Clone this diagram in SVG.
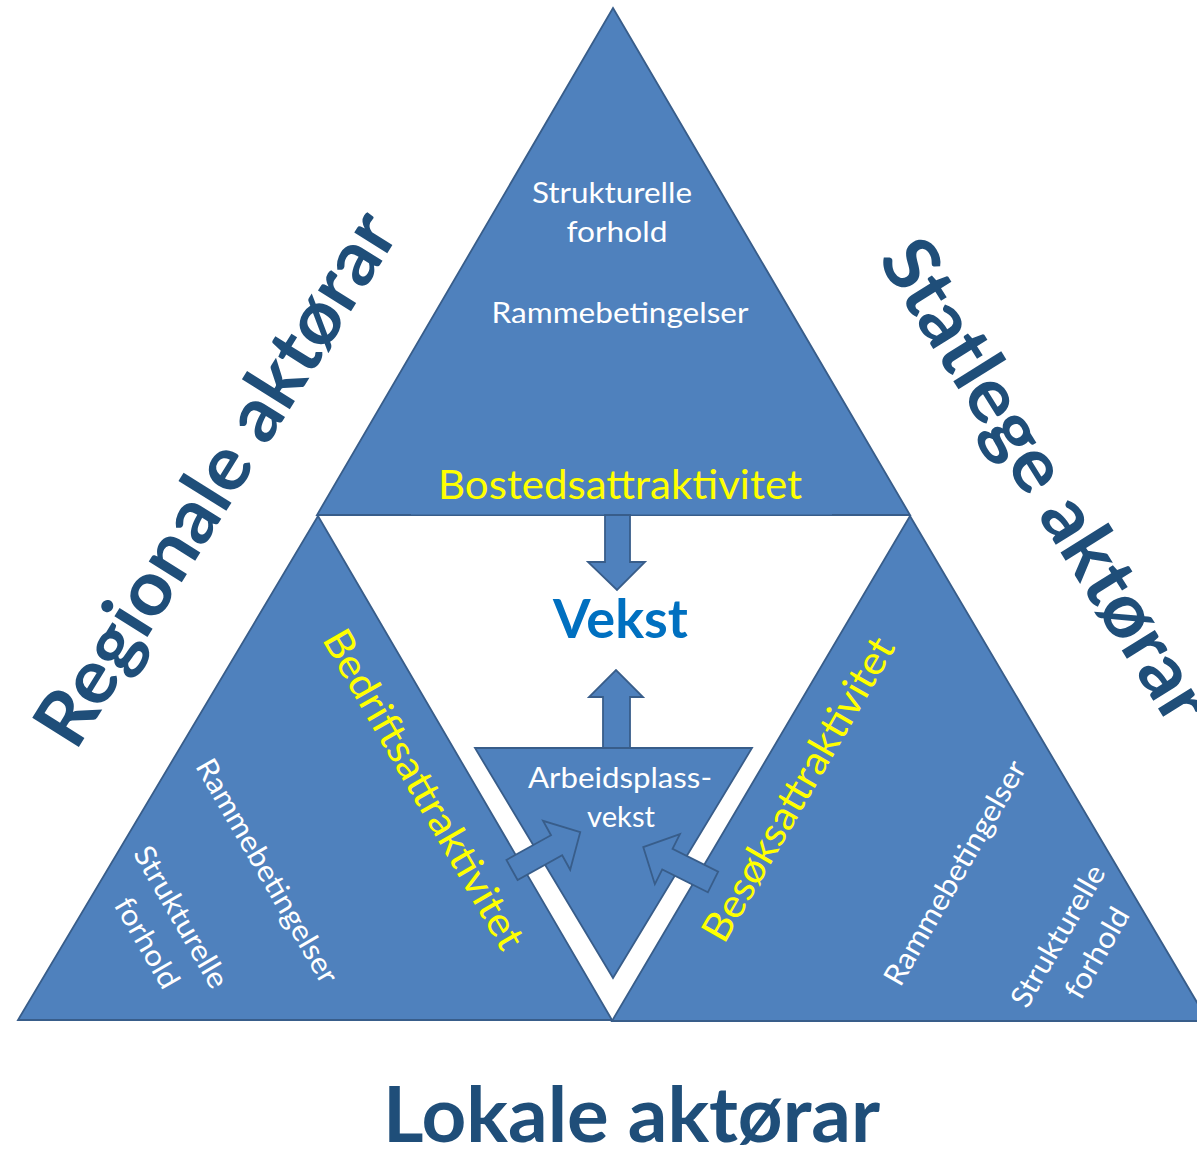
<svg xmlns="http://www.w3.org/2000/svg" width="1197" height="1153" viewBox="0 0 1197 1153">
  <style>
    .tri { fill: #4F81BD; stroke: #385D8A; stroke-width: 1.8; stroke-linejoin: miter; }
    .arrow { fill: #4F81BD; stroke: #385D8A; stroke-width: 1.8; stroke-linejoin: miter; }
    .w { font-family: Lato, "Open Sans", "Liberation Sans", sans-serif; fill: #FFFFFF; font-size: 29.5px; text-anchor: middle; }
    .y { font-family: Lato, "Open Sans", "Liberation Sans", sans-serif; fill: #FFFF00; font-size: 40px; text-anchor: middle; }
    .big { font-family: Lato, "Open Sans", "Liberation Sans", sans-serif; font-weight: bold; fill: #1F4E79; font-size: 76px; text-anchor: middle; }
    .vekst { font-family: Lato, "Open Sans", "Liberation Sans", sans-serif; font-weight: bold; fill: #0070C0; font-size: 53px; text-anchor: middle; }
  </style>
  <rect width="1197" height="1153" fill="#FFFFFF"/>

  <g id="top-triangle">
    <polygon class="tri" points="613,8 910,515 317,515"/>
    <rect x="411" y="511" width="421" height="3.5" fill="#4F81BD"/>
    <text class="w" x="612" y="203" textLength="160" lengthAdjust="spacingAndGlyphs">Strukturelle</text>
    <text class="w" x="617" y="242" textLength="101" lengthAdjust="spacingAndGlyphs">forhold</text>
    <text class="w" x="620" y="323" textLength="257" lengthAdjust="spacingAndGlyphs">Rammebetingelser</text>
    <text class="y" x="620" y="499" textLength="364" lengthAdjust="spacingAndGlyphs">Bostedsattraktivitet</text>
  </g>

  <g id="left-triangle">
    <polygon class="tri" points="318,516 612,1020 18,1020"/>
    <text class="y" transform="translate(424,789) rotate(60)" x="0" y="14" textLength="362" lengthAdjust="spacingAndGlyphs">Bedriftsattraktivitet</text>
    <text class="w" transform="translate(267,871) rotate(60)" x="0" y="10" textLength="254" lengthAdjust="spacingAndGlyphs">Rammebetingelser</text>
    <text class="w" transform="translate(181,917) rotate(60)" x="0" y="10" textLength="159" lengthAdjust="spacingAndGlyphs">Strukturelle</text>
    <text class="w" transform="translate(147,943) rotate(60)" x="0" y="10" textLength="100" lengthAdjust="spacingAndGlyphs">forhold</text>
  </g>

  <g id="right-triangle">
    <polygon class="tri" points="910,516 1208,1021 612,1021"/>
    <text class="y" transform="translate(798,789) rotate(-60)" x="0" y="14" textLength="344" lengthAdjust="spacingAndGlyphs">Besøksattraktivitet</text>
    <text class="w" transform="translate(955,873) rotate(-60)" x="0" y="10" textLength="254" lengthAdjust="spacingAndGlyphs">Rammebetingelser</text>
    <text class="w" transform="translate(1058,936) rotate(-60)" x="0" y="10" textLength="159" lengthAdjust="spacingAndGlyphs">Strukturelle</text>
    <text class="w" transform="translate(1097,953) rotate(-60)" x="0" y="10" textLength="100" lengthAdjust="spacingAndGlyphs">forhold</text>
  </g>

  <g id="center-triangle">
    <polygon class="tri" points="475,748 752,748 613,978"/>
    <text class="w" x="620" y="788" font-size="28" style="font-size:28px" textLength="184" lengthAdjust="spacingAndGlyphs">Arbeidsplass-</text>
    <text class="w" x="621" y="827" style="font-size:28px" textLength="68" lengthAdjust="spacingAndGlyphs">vekst</text>
  </g>

  <g id="vekst">
    <text class="vekst" x="620.5" y="638" textLength="135" lengthAdjust="spacingAndGlyphs">Vekst</text>
  </g>

  <g id="connectors">
    <polygon class="arrow" points="605,515 630,515 630,562 645,562 617,590 588,562 605,562"/>
    <polygon class="arrow" points="603,748 630,748 630,697 643,697 616,670 589,697 603,697"/>
    <polygon class="arrow" transform="translate(512,870) rotate(-29)" points="0,-11.5 51,-11.5 51,-28 78,0 51,28 51,11.5 0,11.5"/>
    <polygon class="arrow" transform="translate(713,882) rotate(-153.4)" points="0,-11.5 51,-11.5 51,-28 78,0 51,28 51,11.5 0,11.5"/>
  </g>

  <g id="regionale-aktorar">
    <text class="big" transform="translate(215,478) rotate(-58)" x="0" y="27" textLength="613" lengthAdjust="spacingAndGlyphs">Regionale aktørar</text>
  </g>
  <g id="statlege-aktorar">
    <text class="big" transform="translate(1047,480) rotate(58)" x="0" y="27" textLength="554" lengthAdjust="spacingAndGlyphs">Statlege aktørar</text>
  </g>
  <g id="lokale-aktorar">
    <text class="big" x="631.5" y="1142" textLength="497" lengthAdjust="spacingAndGlyphs">Lokale aktørar</text>
  </g>
</svg>
